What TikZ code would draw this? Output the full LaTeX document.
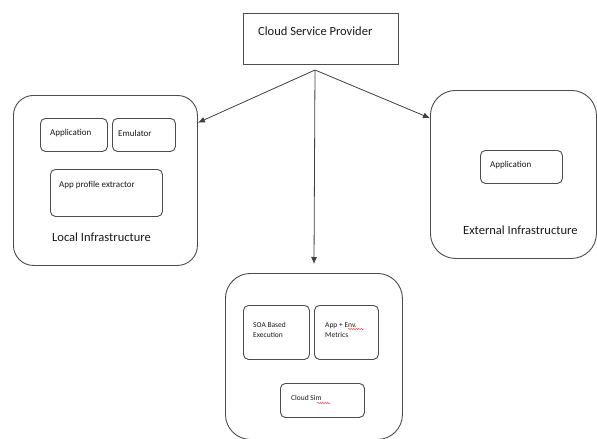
\documentclass[tikz,border=0pt]{standalone}
\usepackage{fontspec}
\setmainfont{Carlito}
\usetikzlibrary{arrows.meta,decorations.pathmorphing}
\tikzset{
  box/.style={draw=black!70, line width=0.9pt, rectangle, anchor=north west, inner sep=0pt},
  bigbox/.style={box, rounded corners=22pt},
  smallbox/.style={box, rounded corners=5pt},
  plainbox/.style={box},
  bigtxt/.style={anchor=west, inner sep=0pt, font=\fontsize{12.5}{14}\selectfont, text=black!90},
  smalltxt/.style={anchor=west, inner sep=0pt, font=\fontsize{9}{11}\selectfont, text=black!90, align=left},
  tinytxt/.style={anchor=west, inner sep=0pt, font=\fontsize{7.5}{9.5}\selectfont, text=black!90, align=left},
  arr/.style={-{Latex[length=7pt,width=6pt]}, draw=black!75, line width=0.8pt},
  squig/.style={draw=red!80, line width=0.5pt, decorate, decoration={snake, amplitude=0.6pt, segment length=2.5pt}}
}
\begin{document}
\begin{tikzpicture}[x=1pt,y=-1pt]
\useasboundingbox[fill=white] (0,0) rectangle (597,439);
% Cloud service provider
\node[plainbox, minimum width=155pt, minimum height=51pt] (csp) at (243,13) {};
\node[bigtxt] (csptxt) at (258,31) {Cloud Service Provider};
\coordinate (src) at (315,70);
% Local infrastructure
\node[bigbox, rounded corners=20pt, minimum width=184pt, minimum height=170pt] (local) at (13,95) {};
\node[smallbox, minimum width=67pt, minimum height=33pt] (lapp) at (40,118) {};
\node[smallbox, minimum width=63pt, minimum height=33pt] (emu) at (112,118) {};
\node[smallbox, minimum width=112pt, minimum height=47pt] (ape) at (50,169) {};
\node[smalltxt] (lapptxt) at (50,133) {Application};
\node[smalltxt] (emutxt) at (118,133) {Emulator};
\node[smalltxt] (apetxt) at (59,185) {App profile extractor};
\node[bigtxt] (localtxt) at (52,237) {Local Infrastructure};
% External infrastructure
\node[bigbox, rounded corners=25pt, minimum width=166pt, minimum height=168pt] (ext) at (430,90) {};
\node[smallbox, minimum width=82pt, minimum height=33pt] (eapp) at (480,150) {};
\node[smalltxt] (eapptxt) at (490,165) {Application};
\node[bigtxt] (exttxt) at (463,230) {External Infrastructure};
% Cloud execution
\node[bigbox, rounded corners=25pt, minimum width=177pt, minimum height=166pt] (cloud) at (225,273) {};
\node[smallbox, minimum width=66pt, minimum height=54pt] (soa) at (243,305) {};
\node[smallbox, minimum width=64pt, minimum height=54pt] (met) at (314,305) {};
\node[smallbox, minimum width=84pt, minimum height=34pt] (sim) at (280,383) {};
\node[tinytxt] (soatxt) at (253,330) {SOA Based\\Execution};
\node[tinytxt] (mettxt) at (325,330) {App + Env.\\Metrics};
\node[tinytxt] (simtxt) at (291,398) {Cloud Sim};
\draw[squig] (348,329) -- (364,329);
\draw[squig] (317,403) -- (330,403);
% arrows
\draw[arr] (src) -- (local.32);
\draw[arr] (src) -- (ext.146);
\draw[arr, shorten >=9pt] (src) -- (cloud.north);
\end{tikzpicture}
\end{document}
